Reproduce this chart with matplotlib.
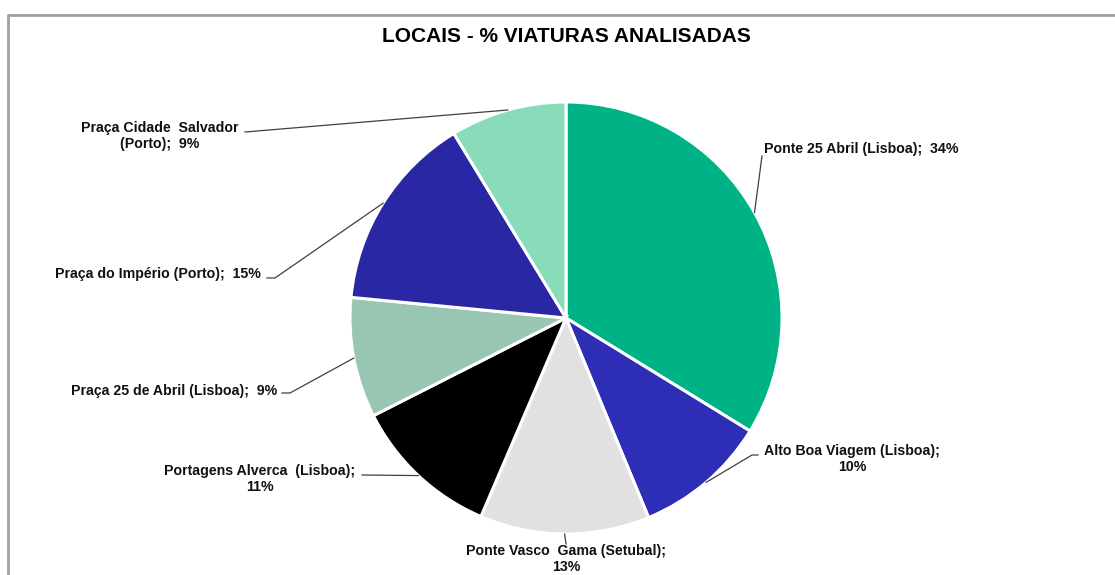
import numpy as np
import matplotlib
matplotlib.use("Agg")
import matplotlib.pyplot as plt

labels = ["Ponte 25 Abril (Lisboa)", "Alto Boa Viagem (Lisboa)", "Ponte Vasco Gama (Setubal)",
          "Portagens Alverca (Lisboa)", "Praça 25 de Abril (Lisboa)", "Praça do Império (Porto)",
          "Praça Cidade Salvador (Porto)"]
values = [33.8, 10.0, 12.7, 11.1, 9.0, 14.8, 8.7]
pct_labels = ["34%", "10%", "13%", "11%", "9%", "15%", "9%"]
colors = ["#00B386", "#2E2DB6", "#E1E1E1", "#000000", "#99C6B2", "#2A27A5", "#88DCB9"]
label_texts = [
    "Ponte 25 Abril (Lisboa);  34%",
    "Alto Boa Viagem (Lisboa);\n10%",
    "Ponte Vasco  Gama (Setubal);\n13%",
    "Portagens Alverca  (Lisboa);\n11%",
    "Praça 25 de Abril (Lisboa);  9%",
    "Praça do Império (Porto);  15%",
    "Praça Cidade  Salvador\n(Porto);  9%",
]

W, H = 1115, 575
fig = plt.figure(figsize=(W / 100, H / 100), dpi=100)
ax = fig.add_axes([0, 0, 1, 1])

# border (frame of chart area)
ax.plot([7.5, 7.5, W + 5], [-5, H - 14.5, H - 14.5], color="#A0A0A0", lw=2, solid_capstyle="butt")

cx, cy, r = 566, H - 318, 216
explode = [0.017, 0, 0, 0, 0, 0, 0]
wedges, _ = ax.pie(values, startangle=90, counterclock=False, colors=colors,
                   center=(cx, cy), radius=r, explode=explode,
                   wedgeprops=dict(edgecolor="white", linewidth=2.2), frame=True)
ax.set_xlim(0, W)
ax.set_ylim(0, H)
ax.set_aspect("equal")
ax.axis("off")

# label positions in pixel coordinates (x, y from top), alignment, and leader elbow
specs = [
    (764, 149, "left", [(762, 156)]),
    (852, 459, "center", [(752, 455), (758, 455)]),
    (566, 559, "center", [(566, 544)]),
    (260, 479, "center", [(362, 475)]),
    (277, 391, "right", [(290, 393), (282, 393)]),
    (261, 274, "right", [(275, 278), (267, 278)]),
    (160, 136, "center", [(245, 132)]),
]

for w, txt, (tx, ty, ha, pts) in zip(wedges, label_texts, specs):
    ang = np.deg2rad((w.theta1 + w.theta2) / 2)
    wx = w.center[0] + w.r * np.cos(ang)
    wy = w.center[1] + w.r * np.sin(ang)
    xs = [wx] + [p[0] for p in pts]
    ys = [wy] + [H - p[1] for p in pts]
    ax.plot(xs, ys, color="#404040", lw=0.9, zorder=5)
    ax.text(tx, H - ty, txt, ha=ha, va="center", fontsize=10.2, fontweight="bold",
            family="Liberation Sans", color="#111111", linespacing=1.1, zorder=6)

ax.text(566, H - 37, "LOCAIS - % VIATURAS ANALISADAS", ha="center", va="center",
        fontsize=15, fontweight="bold", family="Liberation Sans", color="black")

fig.savefig("out.png", dpi=100)
